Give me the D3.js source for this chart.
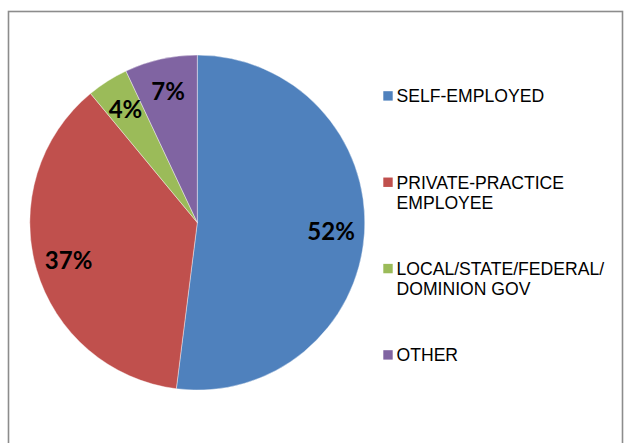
<!DOCTYPE html>
<html>
<head>
<meta charset="utf-8">
<script src="https://cdn.jsdelivr.net/npm/d3@7"></script>
<style>
  html, body { margin: 0; padding: 0; background: #fff; }
  svg { display: block; }
</style>
</head>
<body>
<svg id="chart" width="626" height="443"></svg>
<script>
// Employment categories and their share of respondents (%)
const categories = ["SELF-EMPLOYED", "PRIVATE-PRACTICE EMPLOYEE", "LOCAL/STATE/FEDERAL/ DOMINION GOV", "OTHER"];
const legendLines = [["SELF-EMPLOYED"], ["PRIVATE-PRACTICE", "EMPLOYEE"], ["LOCAL/STATE/FEDERAL/", "DOMINION GOV"], ["OTHER"]];
const values = [52, 37, 4, 7];
const colors = ["#4F81BD", "#C0504D", "#9BBB59", "#8064A2"];

const svg = d3.select("#chart");

// chart area frame
svg.append("rect")
  .attr("x", 8.5).attr("y", 11.5)
  .attr("width", 614).attr("height", 445)
  .attr("fill", "#fff")
  .attr("stroke", "#8c8c8c")
  .attr("stroke-width", 1.6);

const cx = 197.3, cy = 222.6, R = 167.5;

const color = d3.scaleOrdinal().domain(categories).range(colors);

const pie = d3.pie().sort(null).value(d => d.value);
const data = categories.map((c, i) => ({ name: c, value: values[i] }));
const arcs = pie(data);

const arc = d3.arc().innerRadius(0).outerRadius(R);
const labelArc = d3.arc().innerRadius(R * 0.8).outerRadius(R * 0.8);

const g = svg.append("g").attr("transform", `translate(${cx},${cy})`);

g.selectAll("path.slice")
  .data(arcs)
  .join("path")
  .attr("class", "slice")
  .attr("d", arc)
  .attr("fill", d => color(d.data.name))
  .attr("stroke", "#ffffff")
  .attr("stroke-width", 0.4);

// percentage labels, centred on the digits' cap height
g.selectAll("text.pct")
  .data(arcs)
  .join("text")
  .attr("class", "pct")
  .attr("transform", d => `translate(${labelArc.centroid(d)})`)
  .attr("text-anchor", "middle")
  .attr("dy", "0.36em")
  .attr("font-family", "Lato, 'Open Sans', sans-serif")
  .attr("font-weight", "bold")
  .attr("font-size", 24)
  .attr("fill", "#000")
  .text(d => d3.format(".0f")(d.data.value) + "%");

// legend
const legendY = d3.scalePoint().domain(categories).range([96, 355]);
const lineH = 20;
const legend = svg.append("g");
const item = legend.selectAll("g.item")
  .data(categories)
  .join("g")
  .attr("class", "item")
  .attr("transform", c => `translate(0,${legendY(c)})`);

item.append("rect")
  .attr("x", 383.3).attr("y", -4.8)
  .attr("width", 9.4).attr("height", 9.4)
  .attr("fill", c => color(c));

item.append("text")
  .attr("x", 396.5)
  .attr("font-family", "'Liberation Sans', Arial, sans-serif")
  .attr("font-size", 17.6)
  .attr("fill", "#000")
  .selectAll("tspan")
  .data((c, i) => legendLines[i])
  .join("tspan")
  .attr("x", 396.5)
  .attr("y", (d, j) => j * lineH)
  .attr("dy", "0.36em")
  .text(d => d);
</script>
</body>
</html>
